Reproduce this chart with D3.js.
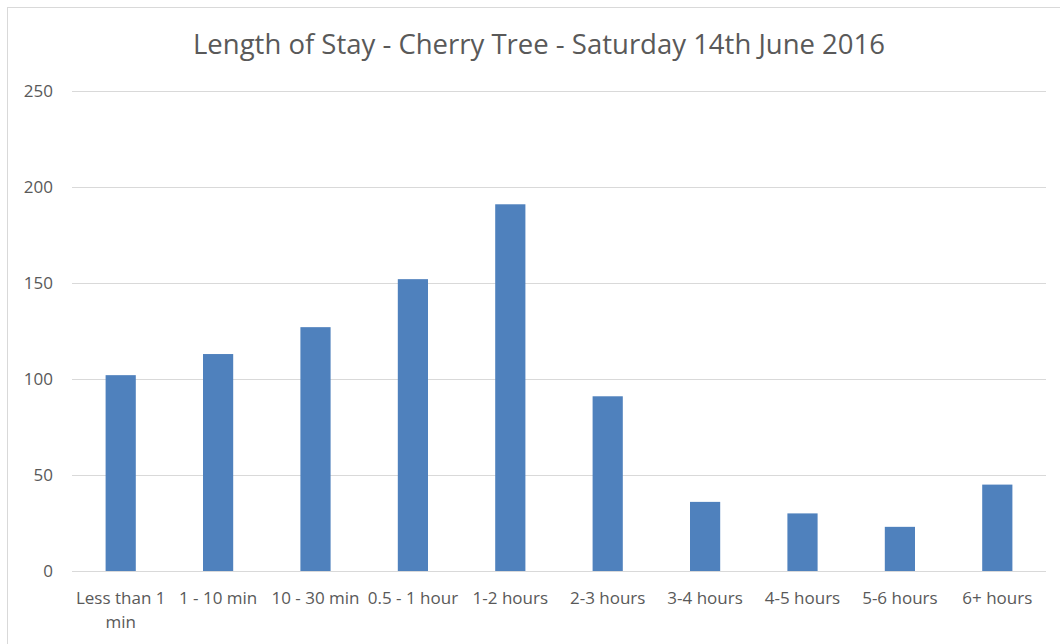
<!DOCTYPE html>
<html>
<head>
<meta charset="utf-8">
<script src="https://cdn.jsdelivr.net/npm/d3@7"></script>
<style>
  html, body { margin: 0; padding: 0; background: #fff; }
  svg { display: block; }
  text { font-family: "Open Sans", Lato, sans-serif; fill: #595959; }
</style>
</head>
<body>
<svg id="chart" width="1060" height="644"></svg>
<script>
// Visitor counts by length of stay
const categories = ["Less than 1 min", "1 - 10 min", "10 - 30 min", "0.5 - 1 hour", "1-2 hours",
                    "2-3 hours", "3-4 hours", "4-5 hours", "5-6 hours", "6+ hours"];
const visitors = [102, 113, 127, 152, 191, 91, 36, 30, 23, 45];
const yTicks = [0, 50, 100, 150, 200, 250];
const chartTitle = "Length of Stay - Cherry Tree - Saturday 14th June 2016";

const svg = d3.select("#chart");
const W = 1060, H = 644;
const plot = { left: 72, right: 1046, top: 91, bottom: 571 };
const FONT = "'Open Sans', Lato, sans-serif";

// outer frame of the chart object
svg.append("rect")
  .attr("x", 7.5).attr("y", 7.5)
  .attr("width", W + 20).attr("height", H + 20)
  .attr("fill", "#fff").attr("stroke", "#d9d9d9").attr("stroke-width", 1);

const x = d3.scaleBand()
  .domain(categories)
  .range([plot.left, plot.right])
  .paddingInner(0.69)
  .paddingOuter(0.345);

const y = d3.scaleLinear()
  .domain([0, 250])
  .range([plot.bottom, plot.top]);

// horizontal gridlines
svg.append("g")
  .selectAll("line")
  .data(yTicks)
  .join("line")
  .attr("x1", plot.left).attr("x2", plot.right)
  .attr("y1", d => Math.round(y(d)) + 0.5)
  .attr("y2", d => Math.round(y(d)) + 0.5)
  .attr("stroke", "#d9d9d9")
  .attr("stroke-width", 1);

// y axis labels
const yAxis = d3.axisLeft(y).tickValues(yTicks).tickSize(0).tickPadding(0);
const yg = svg.append("g")
  .attr("transform", `translate(${plot.left - 19},0)`)
  .call(yAxis);
yg.select(".domain").remove();
yg.selectAll("text")
  .attr("font-size", 17)
  .attr("fill", "#595959")
  .style("font-family", FONT);

// bars
svg.append("g")
  .selectAll("rect")
  .data(visitors)
  .join("rect")
  .attr("x", (d, i) => x(categories[i]))
  .attr("y", d => y(d))
  .attr("width", x.bandwidth())
  .attr("height", d => y(0) - y(d))
  .attr("fill", "#4f81bd");

// x axis labels, wrapped to the category width
const xAxis = d3.axisBottom(x).tickSize(0).tickPadding(0);
const xg = svg.append("g")
  .attr("transform", `translate(0,${plot.bottom + 21})`)
  .call(xAxis);
xg.select(".domain").remove();
xg.selectAll("text")
  .attr("font-size", 17)
  .attr("fill", "#595959")
  .style("font-family", FONT)
  .each(function(d) {
    const t = d3.select(this);
    const words = d.split(" ");
    t.text(null);
    let line = [];
    let tspan = t.append("tspan").attr("x", 0).attr("dy", "0.71em");
    for (const w of words) {
      line.push(w);
      tspan.text(line.join(" "));
      if (tspan.node().getComputedTextLength() > x.step() + 2 && line.length > 1) {
        line.pop();
        tspan.text(line.join(" "));
        line = [w];
        tspan = t.append("tspan").attr("x", 0).attr("dy", "1.41em").text(w);
      }
    }
  });

// title
svg.append("text")
  .attr("x", 539)
  .attr("y", 54)
  .attr("text-anchor", "middle")
  .attr("font-size", 27.5)
  .style("font-family", FONT)
  .text(chartTitle);
</script>
</body>
</html>
